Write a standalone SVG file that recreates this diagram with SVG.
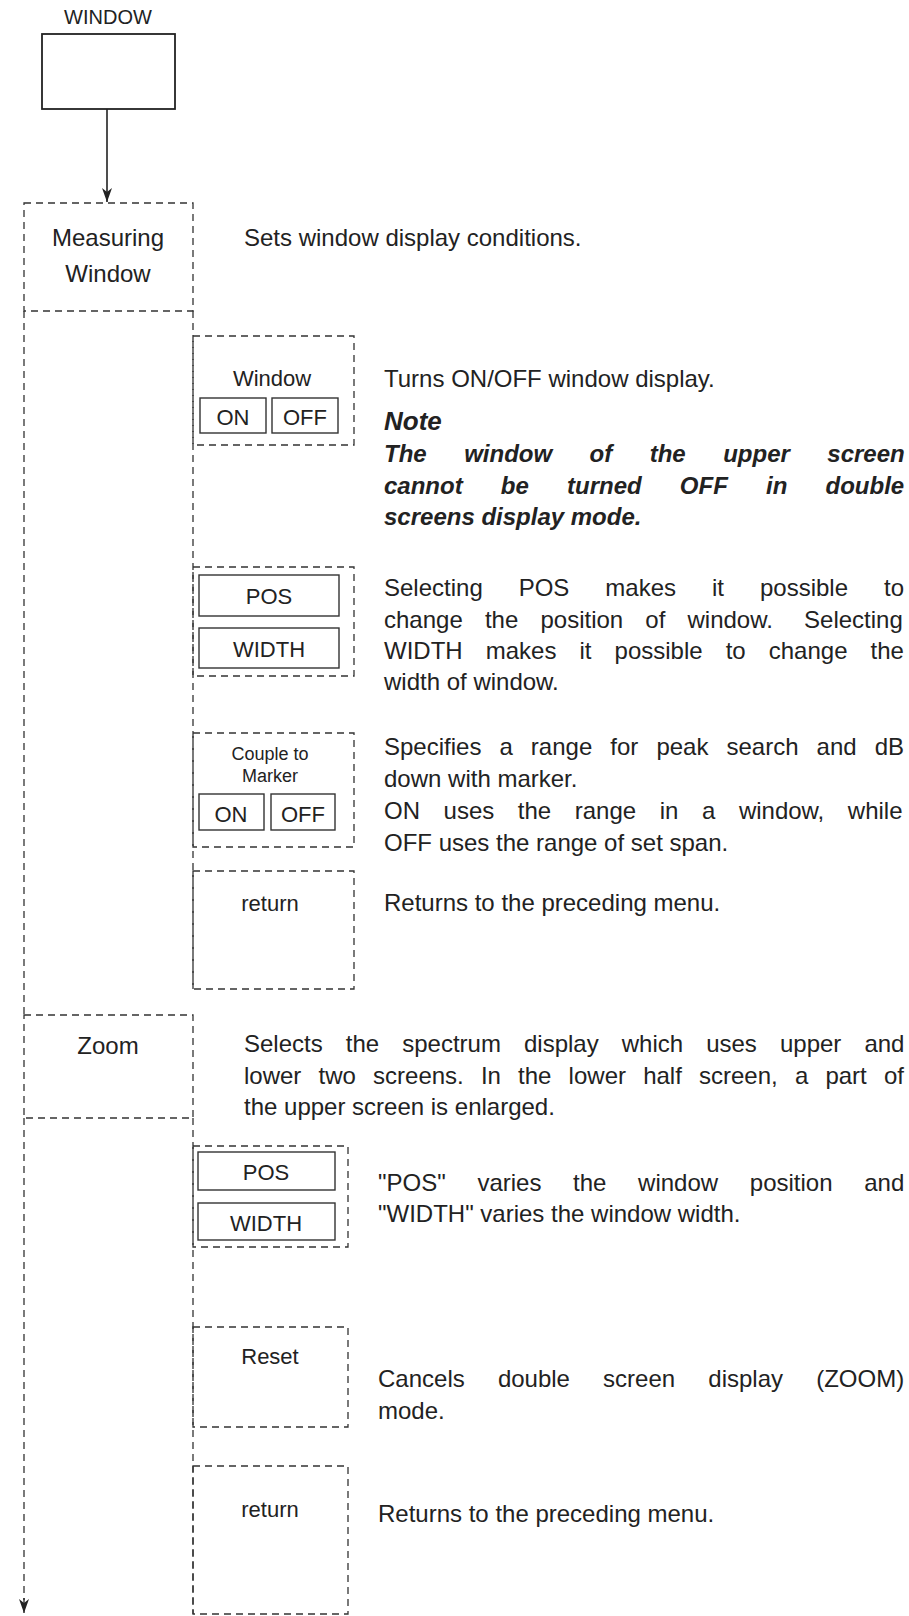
<svg xmlns="http://www.w3.org/2000/svg" width="909" height="1616" viewBox="0 0 909 1616">
<defs>
<style>
.t{font-family:"Liberation Sans",Arial,Helvetica,sans-serif;font-size:24px;fill:#222}
.c{text-anchor:middle}
.s{font-size:18px}
.b{font-size:22px}
.w{font-size:20px}
.h{font-size:26px}
.n{font-weight:bold;font-style:italic}
.d{fill:none;stroke:#333;stroke-width:1.3;stroke-dasharray:7 5}
.k{fill:none;stroke:#333;stroke-width:1.4}
.sol{fill:none;stroke:#222;stroke-width:1.8}
</style>
<marker id="ah" viewBox="0 0 14 10" refX="14" refY="5" markerWidth="14" markerHeight="10" markerUnits="userSpaceOnUse" orient="auto">
<path d="M0,0 L14,5 L0,10 L4,5 Z" fill="#222"/>
</marker>
</defs>
<rect width="909" height="1616" fill="#fff"/>

<g id="connectors">
<line x1="107" y1="109" x2="107" y2="202" stroke="#222" stroke-width="1.6" marker-end="url(#ah)"/>
<line class="d" x1="24" y1="311" x2="24" y2="1015"/>
<line class="d" x1="24" y1="1118" x2="24" y2="1600"/>
<line x1="24" y1="1598" x2="24" y2="1613" stroke="#222" stroke-width="1.3" marker-end="url(#ah)"/>
<line class="d" x1="193" y1="311" x2="193" y2="989"/>
<line class="d" x1="193" y1="1118" x2="193" y2="1614"/>
</g>

<g id="window-top">
<text class="t c w" x="108" y="24">WINDOW</text>
<rect class="sol" x="42" y="34" width="133" height="75"/>
</g>

<g id="measuring-window">
<rect class="d" x="24" y="203" width="169" height="108"/>
<text class="t c" x="108" y="246">Measuring</text>
<text class="t c" x="108" y="282">Window</text>
<text class="t" x="244" y="246">Sets window display conditions.</text>
</g>

<g id="window-onoff">
<rect class="d" x="193" y="336" width="161" height="109"/>
<text class="t c b" x="272" y="386">Window</text>
<rect class="k" x="200" y="398" width="66" height="35"/>
<rect class="k" x="272" y="398" width="66" height="35"/>
<text class="t c b" x="233" y="425">ON</text>
<text class="t c b" x="305" y="425">OFF</text>
<text class="t" x="384" y="387">Turns ON/OFF window display.</text>
<text class="t n h" x="384" y="430">Note</text>
<text class="t n" x="384" y="462" style="word-spacing:30.8px">The window of the upper screen</text>
<text class="t n" x="384" y="494" style="word-spacing:31.5px">cannot be turned OFF in double</text>
<text class="t n" x="384" y="525">screens display mode.</text>
</g>

<g id="pos-width-1">
<rect class="d" x="193" y="567" width="161" height="109"/>
<rect class="k" x="199" y="575" width="140" height="41"/>
<rect class="k" x="199" y="628" width="140" height="40"/>
<text class="t c b" x="269" y="604">POS</text>
<text class="t c b" x="269" y="657">WIDTH</text>
<text class="t" x="384" y="596" style="word-spacing:29.3px">Selecting POS makes it possible to</text>
<text class="t" x="384" y="628" style="word-spacing:15.5px">change the position of window. <tspan dx="9">Selecting</tspan></text>
<text class="t" x="384" y="659" style="word-spacing:16.4px">WIDTH makes it possible to change the</text>
<text class="t" x="384" y="690">width of window.</text>
</g>

<g id="couple-marker">
<rect class="d" x="193" y="733" width="161" height="114"/>
<text class="t c s" x="270" y="760">Couple to</text>
<text class="t c s" x="270" y="782">Marker</text>
<rect class="k" x="199" y="794" width="65" height="36"/>
<rect class="k" x="271" y="794" width="64" height="36"/>
<text class="t c b" x="231" y="822">ON</text>
<text class="t c b" x="303" y="822">OFF</text>
<text class="t" x="384" y="755" style="word-spacing:11.4px">Specifies a range for peak search and dB</text>
<text class="t" x="384" y="787">down with marker.</text>
<text class="t" x="384" y="819" style="word-spacing:16.9px">ON uses the range in a window, while</text>
<text class="t" x="384" y="851">OFF uses the range of set span.</text>
</g>

<g id="return-1">
<rect class="d" x="193" y="871" width="161" height="118"/>
<text class="t c b" x="270" y="911">return</text>
<text class="t" x="384" y="911">Returns to the preceding menu.</text>
</g>

<g id="zoom">
<rect class="d" x="24" y="1015" width="169" height="103"/>
<text class="t c" x="108" y="1054">Zoom</text>
<text class="t" x="244" y="1052" style="word-spacing:16.4px">Selects the spectrum display which uses upper and</text>
<text class="t" x="244" y="1084" style="word-spacing:10.5px">lower two screens. In the lower half screen, a part of</text>
<text class="t" x="244" y="1115">the upper screen is enlarged.</text>
</g>

<g id="pos-width-2">
<rect class="d" x="193" y="1146" width="155" height="101"/>
<rect class="k" x="198" y="1152" width="137" height="38"/>
<rect class="k" x="198" y="1203" width="137" height="37"/>
<text class="t c b" x="266" y="1180">POS</text>
<text class="t c b" x="266" y="1231">WIDTH</text>
<text class="t" x="378" y="1191" style="word-spacing:25px">"POS" varies the window position and</text>
<text class="t" x="378" y="1222">"WIDTH" varies the window width.</text>
</g>

<g id="reset">
<rect class="d" x="193" y="1327" width="155" height="100"/>
<text class="t c b" x="270" y="1364">Reset</text>
<text class="t" x="378" y="1387" style="word-spacing:26.5px">Cancels double screen display (ZOOM)</text>
<text class="t" x="378" y="1419">mode.</text>
</g>

<g id="return-2">
<rect class="d" x="193" y="1466" width="155" height="148"/>
<text class="t c b" x="270" y="1517">return</text>
<text class="t" x="378" y="1522">Returns to the preceding menu.</text>
</g>
</svg>
